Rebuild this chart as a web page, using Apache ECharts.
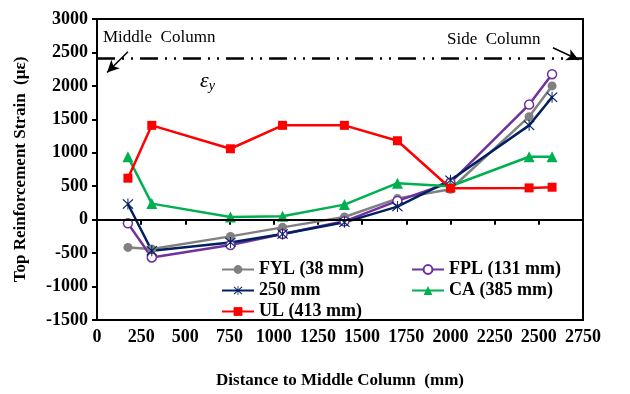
<!DOCTYPE html>
<html>
<head>
<meta charset="utf-8">
<script src="https://cdn.jsdelivr.net/npm/echarts@6/dist/echarts.min.js"></script>
<style>
  html, body { margin: 0; padding: 0; background: #fff; }
  #chart { width: 630px; height: 394px; }
</style>
</head>
<body>
<div id="chart"></div>
<script>
// 数据
var distances = [175, 310, 755, 1050, 1400, 1700, 2000, 2445, 2575];
var fylVals = [-415, -440, -250, -115, 40, 315, 455, 1540, 2000];
var fplVals = [-55, -565, -380, -215, -25, 280, 555, 1720, 2175];
var mm250Vals = [235, -465, -340, -215, -40, 195, 590, 1410, 1830];
var caVals = [940, 240, 40, 50, 225, 545, 500, 940, 940];
var ulVals = [620, 1410, 1060, 1410, 1410, 1180, 470, 475, 485];
var yieldStrain = 2420;
var xTicks = [0, 2750, 250];
var yTicks = [-1500, 3000, 500];

var serif = 'Liberation Serif';
var asterisk = 'path://M9.2,0L10.8,0L10.8,20L9.2,20Z' +
    'M2.4,1L19,17.6L17.6,19L1,2.4Z' +
    'M17.6,1L19,2.4L2.4,19L1,17.6Z';

var pairs = function (vals) {
    return distances.map(function (d, i) { return [d, vals[i]]; });
};

var mkSeries = function (name, vals, color, symbol, size, hollow) {
    return {
        name: name,
        type: 'line',
        data: pairs(vals),
        symbol: symbol,
        symbolSize: size,
        showAllSymbol: true,
        lineStyle: { color: color, width: 2.5 },
        itemStyle: {
            color: hollow ? '#fff' : color,
            borderColor: color,
            borderWidth: hollow ? 1.5 : 0
        },
        emphasis: { disabled: true },
        z: 3
    };
};

var series = [
    mkSeries('FYL (38 mm)', fylVals, '#808080', 'circle', 9, false),
    mkSeries('FPL (131 mm)', fplVals, '#7030A0', 'circle', 9, true),
    mkSeries('250 mm', mm250Vals, '#002060', asterisk, 11, false),
    mkSeries('CA (385 mm)', caVals, '#00B050', 'triangle', 11, false),
    mkSeries('UL (413 mm)', ulVals, '#FF0000', 'rect', 9, false)
];

// 零线、屈服应变线、箭头
series[0].markLine = {
    silent: true,
    symbol: 'none',
    label: { show: false },
    data: [
        { yAxis: 0, lineStyle: { color: '#000', width: 2, type: 'solid' } },
        { yAxis: yieldStrain, lineStyle: { color: '#000', width: 2.5, type: [18, 7, 2, 7, 2, 7] } },
        [
            { coord: [175, 2510], symbol: 'none' },
            { coord: [57, 2200], symbol: 'arrow', symbolSize: [9, 12] }
        ],
        [
            { coord: [2580, 2570], symbol: 'none' },
            { coord: [2725, 2390], symbol: 'arrow', symbolSize: [9, 12] }
        ]
    ],
    lineStyle: { color: '#000', width: 1.5, type: 'solid' }
};

var legendText = { fontFamily: serif, fontWeight: 'bold', fontSize: 18, color: '#000', lineHeight: 21 };
var plain = function (v) { return String(v); };

var option = {
    animation: false,
    backgroundColor: '#fff',
    grid: {
        left: 97, right: 47, top: 19, bottom: 74,
        show: true, borderColor: '#000', borderWidth: 2
    },
    xAxis: {
        type: 'value',
        min: xTicks[0], max: xTicks[1], interval: xTicks[2],
        name: 'Distance to Middle Column  (mm)',
        nameLocation: 'middle',
        nameGap: 52,
        nameTextStyle: { fontFamily: serif, fontWeight: 'bold', fontSize: 17, color: '#000' },
        axisLine: { lineStyle: { color: '#000', width: 2 } },
        axisTick: { show: true, length: 5, lineStyle: { color: '#000', width: 2 } },
        axisLabel: { fontFamily: serif, fontWeight: 'bold', fontSize: 18, color: '#000', margin: 8, formatter: plain },
        splitLine: { show: false }
    },
    yAxis: {
        type: 'value',
        min: yTicks[0], max: yTicks[1], interval: yTicks[2],
        name: 'Top Reinforcement Strain  (με)',
        nameLocation: 'middle',
        nameGap: 68,
        nameTextStyle: { fontFamily: serif, fontWeight: 'bold', fontSize: 17, color: '#000' },
        axisLine: { show: true, lineStyle: { color: '#000', width: 2 } },
        axisTick: { show: true, length: 5, lineStyle: { color: '#000', width: 2 } },
        axisLabel: { fontFamily: serif, fontWeight: 'bold', fontSize: 18, color: '#000', margin: 9, formatter: plain },
        splitLine: { show: false }
    },
    legend: [
        {
            data: ['FYL (38 mm)', '250 mm', 'UL (413 mm)'],
            orient: 'vertical', left: 216, top: 254,
            itemWidth: 32, itemHeight: 11, itemGap: 0,
            textStyle: legendText, selectedMode: false
        },
        {
            data: ['FPL (131 mm)', 'CA (385 mm)'],
            orient: 'vertical', left: 406, top: 254,
            itemWidth: 32, itemHeight: 11, itemGap: 0,
            textStyle: legendText, selectedMode: false
        }
    ],
    graphic: [
        { type: 'text', left: 103, top: 29, style: { text: 'Middle  Column', font: '17px "Liberation Serif"', fill: '#000' } },
        { type: 'text', left: 447, top: 31, style: { text: 'Side  Column', font: '17px "Liberation Serif"', fill: '#000' } },
        {
            type: 'text', left: 200, top: 70,
            style: {
                text: '{e|ε}{s|y}',
                rich: {
                    e: { fontFamily: serif, fontStyle: 'italic', fontSize: 22, fill: '#000' },
                    s: { fontFamily: serif, fontStyle: 'italic', fontSize: 14, fill: '#000', padding: [10, 0, 0, 0] }
                }
            }
        }
    ],
    series: series
};

var chart = echarts.init(document.getElementById('chart'));
chart.setOption(option);
</script>
</body>
</html>
